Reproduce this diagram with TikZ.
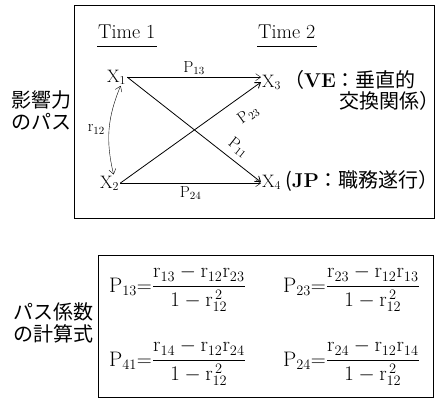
\documentclass[tikz,border=0pt]{standalone}
\usepackage{fontspec}
\usepackage{amsmath}
\newfontfamily\jfont{Noto Sans CJK JP}
\usetikzlibrary{positioning,arrows.meta}
\newcommand{\rcf}[1]{\mathrm{r}_{#1}}
\newcommand{\pcf}[1]{\mathrm{P}_{#1}}
\newcommand{\pathcoef}[3]{$\pcf{#1}{=}\dfrac{\rcf{#2}-\rcf{12}\rcf{#3}}{1-\rcf{12}^{\,2}}$}
\begin{document}
\begin{tikzpicture}[x=1pt,y=-1pt,>={Straight Barb[length=5pt,width=7pt]},
  var/.style={font=\fontsize{18}{20}\selectfont, inner sep=1pt, anchor=base west},
  time/.style={font=\fontsize{20}{22}\selectfont, inner xsep=1pt, inner ysep=8pt, anchor=base west},
  lbl/.style={font=\fontsize{16}{18}\selectfont, inner sep=1pt},
  jtext/.style={font=\jfont\fontsize{20}{22}\selectfont, inner sep=0pt},
  formula/.style={font=\fontsize{21}{24}\selectfont, inner sep=0pt, anchor=base west},
  path/.style={->, thick},
  flow/.style={->, thin}]
 \useasboundingbox (0,0) rectangle (439,399);
 % upper box: path diagram
 \draw (74,5) rectangle (434,218);
 \node[time] (t1) at (97,38) {Time 1};
 \node[time] (t2) at (257,38) {Time 2};
 \draw (t1.south west) -- (t1.south east);
 \draw (t2.south west) -- (t2.south east);
 \node[var] (x1) at (106,82) {$\mathrm{X}_1$};
 \node[var] (x2) at (99,188) {$\mathrm{X}_2$};
 \node[var] (x3) at (261,87) {$\mathrm{X}_3$};
 \node[var] (x4) at (261,187) {$\mathrm{X}_4$};
 \node[jtext, anchor=base west] (ve) at (284,87) {（\textbf{\fontspec{Latin Modern Roman}VE}：垂直的};
 \node[jtext, anchor=base west] (vebis) at (339,108) {交換関係）};
 \node[jtext, anchor=base west] (jp) at (285,187) {(\textbf{\fontspec{Latin Modern Roman}JP}：職務遂行）};
 \draw[flow] (x1.east) -- node[lbl, above=1pt] {$\pcf{13}$} (x1.east -| x3.west);
 \draw[flow] (x2.east) -- node[lbl, below=2pt] {$\pcf{24}$} (x2.east -| x4.west);
 \draw[path] (x2.east) -- node[lbl, below=11pt, sloped, pos=0.83] {$\pcf{23}$} (x3.west);
 \draw[path] (x1.east) -- node[lbl, above=5pt, sloped, pos=0.77] {$\pcf{11}$} (x4.west);
 \draw[<->] ([xshift=4pt]x1.south) to[bend right=18] node[lbl, left=3pt] {$\rcf{12}$} ([xshift=4pt]x2.north);
 \node[jtext, align=left] (infl) at (42,110) {影響力\\のパス};
 % lower box: formulas
 \draw (98,255) rectangle (433,397.5);
 \node[jtext, align=left] (calc) at (53,323) {パス係数\\の計算式};
 \node[formula] (f13) at (109,292) {\pathcoef{13}{13}{23}};
 \node[formula] (f23) at (283,292) {\pathcoef{23}{23}{13}};
 \node[formula] (f41) at (109,366) {\pathcoef{41}{14}{24}};
 \node[formula] (f24) at (283,366) {\pathcoef{24}{24}{14}};
\end{tikzpicture}
\end{document}
